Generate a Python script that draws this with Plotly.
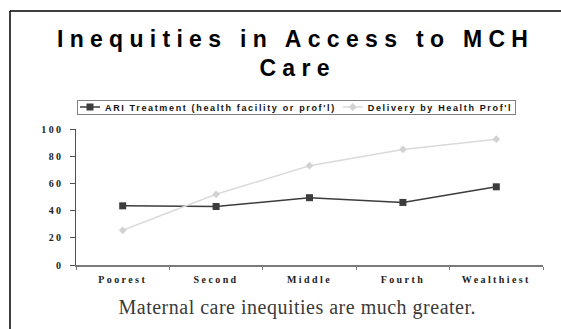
import plotly.graph_objects as go

categories = ["Poorest", "Second", "Middle", "Fourth", "Wealthiest"]
ari_treatment = [43.5, 43, 49.5, 46, 57.5]
delivery_prof = [25.5, 52, 73, 85, 92.5]
y_ticks = [0, 20, 40, 60, 80, 100]

title_line1 = "Inequities in Access to MCH"
title_line2 = "Care"
subtitle = "Maternal care inequities are much greater."
ari_name = "ARI Treatment (health facility or prof'l)"
del_name = "Delivery by Health Prof'l"

W, H = 561, 329
ML, MR, MT, MB = 76, 18, 129, 64
PW = W - ML - MR
PH = H - MT - MB

def px(x):
    return (x - ML) / PW

def py(y):
    return (H - MB - y) / PH

fig = go.Figure()
fig.add_trace(go.Scatter(
    x=categories, y=ari_treatment, name=ari_name, mode="lines+markers",
    line=dict(color="#3c3c3c", width=1.5),
    marker=dict(symbol="square", size=7, color="#3c3c3c"),
))
fig.add_trace(go.Scatter(
    x=categories, y=delivery_prof, name=del_name, mode="lines+markers",
    line=dict(color="#dadada", width=1.5),
    marker=dict(symbol="diamond", size=6, color="#d2d2d2"),
))

sans = "Liberation Sans, Arial, sans-serif"
serif = "Liberation Serif, Times New Roman, serif"

fig.update_layout(
    width=W, height=H,
    margin=dict(l=ML, r=MR, t=MT, b=MB, pad=0),
    paper_bgcolor="white", plot_bgcolor="white",
    showlegend=True,
    legend=dict(
        orientation="h", x=px(77), y=py(100), xanchor="left", yanchor="top",
        font=dict(family=sans, size=9, color="#111", weight="bold"),
        bordercolor="#808080", borderwidth=1, bgcolor="white",
    ),
    xaxis=dict(
        type="category", range=[-0.5, 4.5], showgrid=False, zeroline=False,
        showline=True, linecolor="#7a7a7a", linewidth=1.5,
        ticks="outside", tickson="boundaries", ticklen=3, tickcolor="#7a7a7a",
        tickfont=dict(family=serif, size=10, color="#222", weight="bold"),
        ticklabelstandoff=4,
        fixedrange=True,
    ),
    yaxis=dict(
        range=[0, 100], tickvals=y_ticks, showgrid=False, zeroline=False,
        showline=True, linecolor="#505050", linewidth=1.5,
        ticks="outside", ticklen=5, tickcolor="#505050",
        tickfont=dict(family=serif, size=10, color="#222", weight="bold"),
        ticklabelstandoff=4,
        fixedrange=True,
    ),
    hovermode=False,
    annotations=[
        dict(text=title_line1, xref="paper", yref="paper", x=px(295), y=py(39),
             xanchor="center", yanchor="middle", showarrow=False,
             font=dict(family=sans, size=23, color="black", weight="bold")),
        dict(text=title_line2, xref="paper", yref="paper", x=px(297), y=py(68),
             xanchor="center", yanchor="middle", showarrow=False,
             font=dict(family=sans, size=23, color="black", weight="bold")),
        dict(text=subtitle, xref="paper", yref="paper", x=px(297), y=py(307),
             xanchor="center", yanchor="middle", showarrow=False,
             font=dict(family=serif, size=20, color="#3a3a3a")),
    ],
    shapes=[
        dict(type="line", xref="paper", yref="paper", x0=px(10), x1=px(10),
             y0=py(11), y1=py(340), line=dict(color="black", width=1.5)),
        dict(type="line", xref="paper", yref="paper", x0=px(10), x1=px(570),
             y0=py(11), y1=py(11), line=dict(color="black", width=1.5)),
    ],
)

post = """
var gd = document.getElementById('{plot_id}');
function spacing(sel, v) {
  gd.querySelectorAll(sel).forEach(function(t){ t.style.letterSpacing = v; });
}
var ann = gd.querySelectorAll('text.annotation-text');
if (ann.length >= 3) {
  ann[0].style.letterSpacing = '6.3px';
  ann[1].style.letterSpacing = '6.3px';
  ann[2].style.letterSpacing = '0.5px';
}
spacing('g.xtick text', '2.4px');
spacing('g.ytick text', '2.4px');
spacing('text.legendtext', '1.65px');
var leg = gd.querySelector('g.legend');
if (leg) {
  var sb = leg.querySelector('g.scrollbox');
  if (sb) sb.removeAttribute('clip-path');
  leg.querySelectorAll('g.legendlines path').forEach(function(p){ p.setAttribute('d', 'M15,0h20'); });
  leg.querySelectorAll('g.legendpoints path').forEach(function(p){ p.setAttribute('transform', 'translate(25,0)'); });
  var groups = leg.querySelectorAll('g.traces');
  if (groups.length == 2) {
    var rowY = 7;
    var x0 = -12;
    var w0 = groups[0].querySelector('text.legendtext').getBBox().width;
    var w1 = groups[1].querySelector('text.legendtext').getBBox().width;
    var x1 = x0 + 40 + w0 - 8;
    groups[0].setAttribute('transform', 'translate(' + x0 + ',' + rowY + ')');
    groups[1].setAttribute('transform', 'translate(' + x1 + ',' + rowY + ')');
    var bg = leg.querySelector('rect.bg');
    bg.setAttribute('width', x1 + 40 + w1 + 3);
    bg.setAttribute('height', 14);
  }
}
"""

fig.write_html("out.html", include_plotlyjs=True, full_html=True,
               config={"displayModeBar": False, "staticPlot": True},
               post_script=post)
